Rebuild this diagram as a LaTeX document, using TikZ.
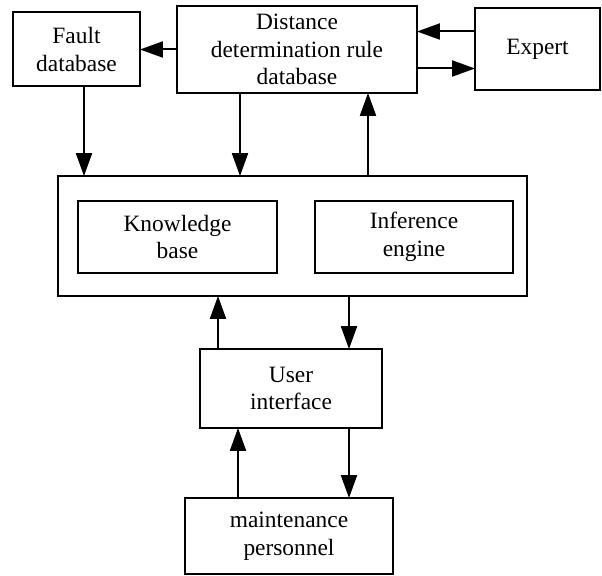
\documentclass[tikz,border=0pt]{standalone}
\usepackage{fontspec}
\setmainfont{Liberation Serif}
\usepackage{tikz}
\usetikzlibrary{arrows.meta,positioning}

\begin{document}
\begin{tikzpicture}[
  box/.style={draw, line width=1pt, align=center, inner sep=2pt, outer sep=0pt,
    font=\fontsize{11.7}{13.8}\selectfont},
  arr/.style={-{Triangle[length=4mm, width=2.8mm]}, line width=1pt}]
\useasboundingbox (0,0) rectangle (301pt,-288pt);
\node[box, minimum width=120pt, minimum height=43.5pt] (rules) at (148.5pt,-24.75pt)
  {Distance\\determination rule\\database};
\node[box, minimum width=63.5pt, minimum height=37pt, left=18.5pt of rules] (fault)
  {Fault\\database};
\node[box, minimum width=62.5pt, minimum height=41pt, right=29pt of rules] (expert)
  {Expert};
\node[box, minimum width=234.5pt, minimum height=60pt, below=41.5pt of rules,
  xshift=-2.25pt] (system) {};
\node[box, minimum width=99.5pt, minimum height=36pt,
  below right=12.5pt and 10pt of system.north west] (know) {Knowledge\\base};
\node[box, minimum width=99pt, minimum height=36pt, right=19pt of know] (infer)
  {Inference\\engine};
\node[box, minimum width=91pt, minimum height=39.5pt, below=26.5pt of system,
  xshift=-0.75pt] (ui) {User\\interface};
\node[box, minimum width=104pt, minimum height=38pt, below=35pt of ui,
  xshift=-1pt] (staff) {maintenance\\personnel};
% top row
\draw[arr] (rules.west |- fault) -- (fault.east);
\draw[arr] ([yshift=9pt]expert.west) -- ([yshift=9pt]expert.west -| rules.east);
\draw[arr] ([yshift=-9.5pt]rules.east |- expert) -- ([yshift=-9.5pt]expert.west);
% into and out of the system
\draw[arr] ([xshift=3.75pt]fault.south) -- ([xshift=3.75pt]fault.south |- system.north);
\draw[arr] ([xshift=-28.5pt]rules.south) -- ([xshift=-28.5pt]rules.south |- system.north);
\draw[arr] ([xshift=35.5pt]rules.south |- system.north) -- ([xshift=35.5pt]rules.south);
\draw[arr] ([xshift=-36.5pt]ui.north) -- ([xshift=-36.5pt]ui.north |- system.south);
\draw[arr] ([xshift=29pt]ui.north |- system.south) -- ([xshift=29pt]ui.north);
% user side
\draw[arr] ([xshift=-26.5pt]ui.south |- staff.north) -- ([xshift=-26.5pt]ui.south);
\draw[arr] ([xshift=29pt]ui.south) -- ([xshift=29pt]ui.south |- staff.north);
\end{tikzpicture}
\end{document}
